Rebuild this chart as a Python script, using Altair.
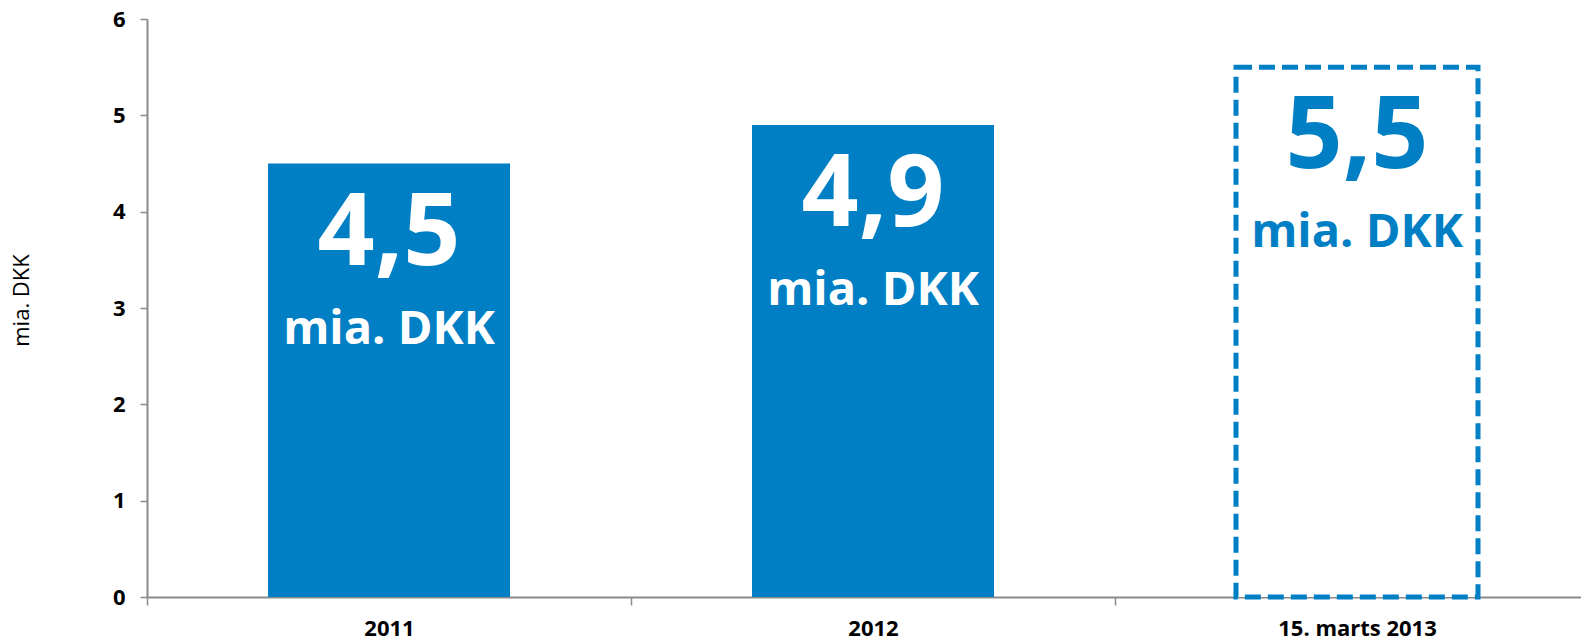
import altair as alt
import pandas as pd

categories = ["2011", "2012", "15. marts 2013"]
values = [4.5, 4.9, 5.5]
value_labels = ["4,5", "4,9", "5,5"]
unit_labels = ["mia. DKK", "mia. DKK", "mia. DKK"]
actual = [True, True, False]
y_ticks = [0, 1, 2, 3, 4, 5, 6]

BLUE = "#007FC5"
AXIS = "#8a8a8a"
FONT = "Open Sans"

STEP = 484
df = pd.DataFrame({
    "cat": categories,
    "value": values,
    "label": value_labels,
    "unit": unit_labels,
    "actual": actual,
})

x = alt.X(
    "cat:N",
    sort=categories,
    scale=alt.Scale(paddingInner=0.5, paddingOuter=0.25, range=[0, 3 * STEP]),
    axis=alt.Axis(
        title=None, labelAngle=0, tickOffset=-STEP / 2, labelOffset=STEP / 2,
        tickSize=8, labelPadding=13, labelFont=FONT, labelFontWeight="bold",
        labelFontSize=22, labelColor="black", domainColor=AXIS,
        tickColor=AXIS, domainWidth=2, tickWidth=1.5,
    ),
)
y = alt.Y(
    "value:Q",
    scale=alt.Scale(domain=[0, 6], nice=False),
    axis=alt.Axis(
        values=y_ticks, grid=False, title="mia. DKK", titleFont=FONT,
        titleFontWeight="normal", titleFontSize=22, titleColor="black",
        titleX=-126, titleY=281, titleBaseline="middle", titleAngle=-90,
        tickSize=7, labelPadding=15, labelFont=FONT, labelFontWeight="bold",
        labelFontSize=22, labelColor="black", domainColor=AXIS,
        tickColor=AXIS, domainWidth=2, tickWidth=1.5,
    ),
)

base = alt.Chart(df).encode(x=x, y=y)

solid = base.transform_filter(alt.datum.actual == True).mark_bar(color=BLUE)
dashed = base.transform_filter(alt.datum.actual == False).mark_bar(
    fill="white", stroke=BLUE, strokeWidth=5, strokeDash=[16, 7]
)

txt_color = alt.condition(alt.datum.actual == True, alt.value("white"), alt.value(BLUE))

big = base.mark_text(
    font=FONT, fontWeight="bold", fontSize=100, baseline="alphabetic", dy=101
).encode(text="label:N", color=txt_color)
unit = base.mark_text(
    font=FONT, fontWeight="bold", fontSize=47, baseline="alphabetic", dy=180
).encode(text="unit:N", color=txt_color)

chart = alt.layer(solid, dashed, big, unit).properties(
    width=1434, height=578,
    autosize=alt.AutoSizeParams(type="none"),
    padding={"left": 139, "top": 11, "right": 0, "bottom": 43},
).configure_view(stroke=None)

chart.save("out.html", embed_options={"renderer": "svg", "actions": False})
